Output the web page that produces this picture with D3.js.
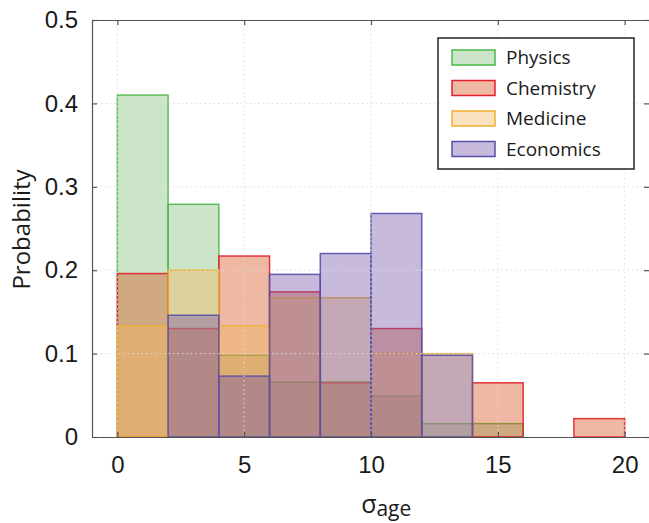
<!DOCTYPE html>
<html>
<head>
<meta charset="utf-8">
<script src="https://cdn.jsdelivr.net/npm/d3@7"></script>
<style>
  body { margin: 0; background: #fff; }
  svg { display: block; font-family: "Open Sans", sans-serif; }
  .tick text { fill: #1a1a1a; font-size: 24px; }
  .grid line { stroke: #dcdcdc; stroke-dasharray: 1.5,3; }
</style>
</head>
<body>
<div id="graph"></div>
<script>
const binEdges = [0, 2, 4, 6, 8, 10, 12, 14, 16, 18, 20];
const physics   = [0.410, 0.279, 0.098, 0.066, 0.066, 0.049, 0.016, 0.016, 0, 0];
const chemistry = [0.196, 0.130, 0.217, 0.174, 0.065, 0.130, 0, 0.065, 0, 0.022];
const medicine  = [0.133, 0.200, 0.133, 0.167, 0.167, 0.100, 0.100, 0, 0, 0];
const economics = [0, 0.146, 0.073, 0.195, 0.220, 0.268, 0.098, 0, 0, 0];
const seriesNames = ['Physics', 'Chemistry', 'Medicine', 'Economics'];
const xTicks = [0, 5, 10, 15, 20];
const yTicks = [0, 0.1, 0.2, 0.3, 0.4, 0.5];

const fills   = ['#7fbe75', '#d74d16', '#f2b65c', '#7352a7'];
const strokes = ['#4cb848', '#e0202a', '#f0b030', '#5850a8'];

const W = 649, H = 523;
const margin = {top: 20, right: -1, bottom: 86, left: 92};
const width = W - margin.left - margin.right;
const height = H - margin.top - margin.bottom;

const x = d3.scaleLinear().domain([-1, 21]).range([0, width]);
const y = d3.scaleLinear().domain([0, 0.5]).range([height, 0]);

const svg = d3.select('#graph').append('svg')
  .attr('width', W)
  .attr('height', H)
  .append('g')
  .attr('transform', 'translate(' + margin.left + ',' + margin.top + ')');

// bars, one series after the other
const allSeries = [physics, chemistry, medicine, economics];
allSeries.forEach((vals, i) => {
  svg.append('g')
    .selectAll('rect')
    .data(vals)
    .join('rect')
    .attr('x', (d, j) => x(binEdges[j]))
    .attr('width', (d, j) => x(binEdges[j + 1]) - x(binEdges[j]))
    .attr('y', d => y(d))
    .attr('height', d => y(0) - y(d))
    .attr('fill', fills[i])
    .attr('fill-opacity', 0.4)
    .attr('stroke', strokes[i])
    .attr('stroke-opacity', 0.9)
    .attr('stroke-width', 1.5);
});

// grid on top
svg.append('g').attr('class', 'grid')
  .selectAll('line.v').data(xTicks).join('line')
  .attr('x1', d => x(d)).attr('x2', d => x(d))
  .attr('y1', 0).attr('y2', height);
svg.append('g').attr('class', 'grid')
  .selectAll('line.h').data(yTicks.slice(1)).join('line')
  .attr('x1', 0).attr('x2', width)
  .attr('y1', d => y(d)).attr('y2', d => y(d));

// axes box
const axisColor = '#555';
const xaxis = d3.axisBottom(x).tickValues(xTicks).tickSizeInner(-5).tickSizeOuter(0).tickPadding(19);
const yaxis = d3.axisLeft(y).tickValues(yTicks).tickFormat(d3.format('')).tickSizeInner(-5).tickSizeOuter(0).tickPadding(14);

const gx = svg.append('g').attr('transform', 'translate(0,' + height + ')').call(xaxis);
const gy = svg.append('g').call(yaxis);
const gxt = svg.append('g').call(d3.axisTop(x).tickValues(xTicks).tickSizeInner(-5).tickSizeOuter(0).tickFormat(''));
const gyr = svg.append('g').attr('transform', 'translate(' + width + ',0)')
  .call(d3.axisRight(y).tickValues(yTicks).tickSizeInner(-6).tickSizeOuter(0).tickFormat(''));
[gx, gy, gxt, gyr].forEach(g => {
  g.select('.domain').attr('stroke', axisColor).attr('stroke-width', 1.2);
  g.selectAll('.tick line').attr('stroke', axisColor).attr('stroke-width', 1.2);
});

// axis labels
svg.append('text')
  .attr('transform', 'translate(' + (-62) + ',' + (height / 2 + 1) + ') rotate(-90)')
  .attr('text-anchor', 'middle')
  .attr('fill', '#1a1a1a')
  .style('font-size', '24px')
  .text('Probability');

const xl = svg.append('text')
  .attr('x', x(10.6))
  .attr('y', height + 76)
  .attr('text-anchor', 'middle')
  .attr('fill', '#1a1a1a')
  .style('font-size', '25px');
xl.append('tspan').text('σ');
xl.append('tspan').attr('dy', 3).style('font-size', '21px').text('age');

// legend
const lg = svg.append('g').attr('transform', 'translate(' + (438 - margin.left) + ',' + (38 - margin.top) + ')');
lg.append('rect')
  .attr('width', 196).attr('height', 131)
  .attr('fill', '#fff').attr('stroke', '#222').attr('stroke-width', 1.5);
seriesNames.forEach((name, i) => {
  const row = lg.append('g').attr('transform', 'translate(0,' + (19 + i * 30.5) + ')');
  row.append('rect')
    .attr('x', 14).attr('y', -7).attr('width', 43).attr('height', 15)
    .attr('fill', fills[i]).attr('fill-opacity', 0.4)
    .attr('stroke', strokes[i]).attr('stroke-width', 1.5);
  row.append('text')
    .attr('x', 68).attr('y', 7)
    .attr('fill', '#1a1a1a')
    .style('font-size', '19px')
    .text(name);
});
</script>
</body>
</html>
